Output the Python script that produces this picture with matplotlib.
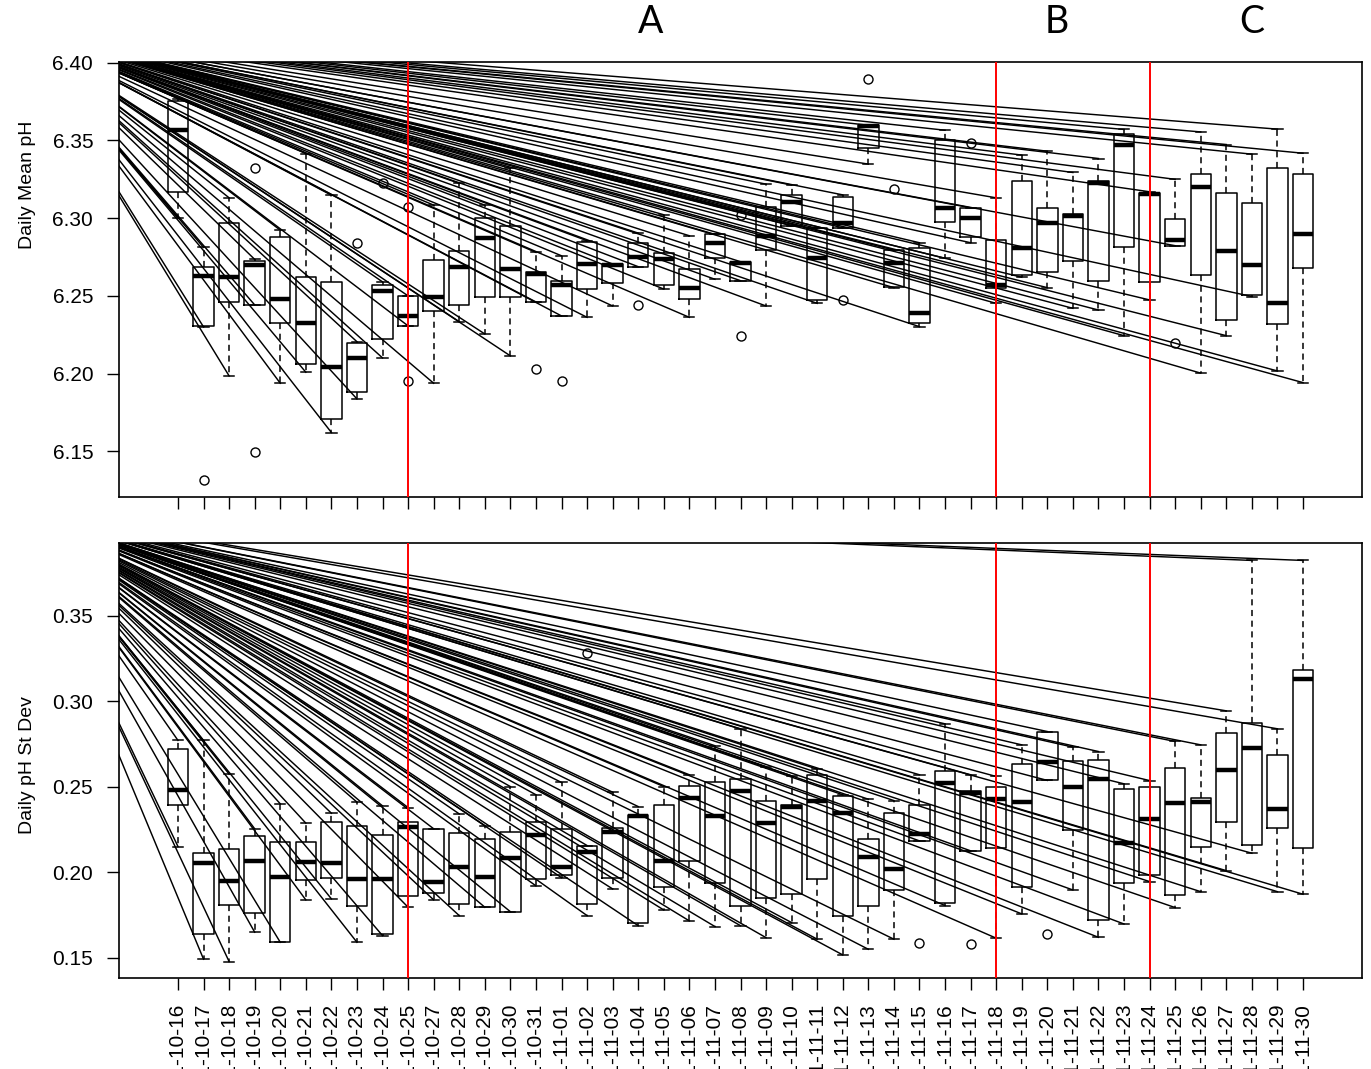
import matplotlib
matplotlib.use("Agg")
import matplotlib.pyplot as plt
import numpy as np

plt.rcParams['font.family'] = ['Liberation Sans', 'DejaVu Sans']

# ---------------- data ----------------
dates = ["2011-10-16", "2011-10-17", "2011-10-18", "2011-10-19", "2011-10-20",
         "2011-10-21", "2011-10-22", "2011-10-23", "2011-10-24", "2011-10-25",
         "2011-10-27", "2011-10-28", "2011-10-29", "2011-10-30", "2011-10-31",
         "2011-11-01", "2011-11-02", "2011-11-03", "2011-11-04", "2011-11-05",
         "2011-11-06", "2011-11-07", "2011-11-08", "2011-11-09", "2011-11-10",
         "2011-11-11", "2011-11-12", "2011-11-13", "2011-11-14", "2011-11-15",
         "2011-11-16", "2011-11-17", "2011-11-18", "2011-11-19", "2011-11-20",
         "2011-11-21", "2011-11-22", "2011-11-23", "2011-11-24", "2011-11-25",
         "2011-11-26", "2011-11-27", "2011-11-28", "2011-11-29", "2011-11-30"]

period_breaks = ["2011-10-25", "2011-11-18", "2011-11-24"]
period_names = ["A", "B", "C"]

# Daily mean pH boxplot statistics
ph_lo = [6.300, 6.230, 6.1985, 6.2442, 6.1938, 6.2009, 6.1621, 6.1837, 6.2101, 6.2307,
         6.1938, 6.2334, 6.2255, 6.2114, 6.2461, 6.2371, 6.2362, 6.2435, 6.2688, 6.2544,
         6.2362, 6.2607, 6.2598, 6.2435, 6.2951, 6.2452, 6.2938, 6.3348, 6.2553, 6.2302,
         6.2742, 6.2842, 6.2452, 6.262, 6.2553, 6.242, 6.2409, 6.2244, 6.2474, 6.2823,
         6.2003, 6.2244, 6.2496, 6.2017, 6.1942]
ph_q1 = [6.317, 6.2307, 6.2461, 6.2442, 6.2324, 6.2062, 6.1709, 6.1882, 6.2225, 6.2307,
         6.240, 6.2443, 6.2495, 6.2495, 6.2461, 6.2371, 6.2544, 6.2581, 6.2688, 6.257,
         6.248, 6.2742, 6.2598, 6.2795, 6.2951, 6.2474, 6.2938, 6.3449, 6.2559, 6.2328,
         6.2977, 6.2877, 6.2549, 6.2634, 6.2652, 6.2724, 6.2598, 6.2816, 6.2587, 6.2823,
         6.2632, 6.2345, 6.2506, 6.2317, 6.2681]
ph_med = [6.3566, 6.2628, 6.2624, 6.2699, 6.2482, 6.2328, 6.2045, 6.2099, 6.253, 6.2373,
          6.2495, 6.2688, 6.287, 6.2671, 6.2639, 6.257, 6.2705, 6.2699, 6.2752, 6.2735,
          6.2553, 6.2842, 6.2713, 6.2887, 6.3105, 6.2742, 6.297, 6.3592, 6.271, 6.2388,
          6.3067, 6.2999, 6.257, 6.2806, 6.297, 6.3016, 6.3224, 6.3474, 6.3155, 6.2859,
          6.3202, 6.2789, 6.2699, 6.2452, 6.2898]
ph_q3 = [6.3755, 6.2688, 6.2969, 6.2724, 6.2877, 6.2624, 6.2587, 6.2199, 6.257, 6.250,
         6.2733, 6.2787, 6.3003, 6.2951, 6.2654, 6.2596, 6.2848, 6.2705, 6.2842, 6.2778,
         6.2673, 6.2896, 6.272, 6.307, 6.3148, 6.2934, 6.3138, 6.3598, 6.2795, 6.2806,
         6.3502, 6.3067, 6.2859, 6.3238, 6.3067, 6.3024, 6.3238, 6.3539, 6.3163, 6.2994,
         6.3283, 6.3159, 6.3095, 6.3322, 6.3283]
ph_hi = [6.377, 6.2812, 6.3131, 6.2735, 6.2923, 6.3416, 6.3148, 6.2205, 6.259, 6.250,
         6.3084, 6.3224, 6.3084, 6.332, 6.278, 6.2758, 6.2855, 6.2705, 6.2904, 6.3022,
         6.2887, 6.2896, 6.272, 6.3219, 6.3213, 6.2934, 6.315, 6.3598, 6.2795, 6.2842,
         6.3566, 6.3067, 6.3131, 6.3406, 6.3431, 6.3294, 6.3384, 6.3571, 6.317, 6.325,
         6.3555, 6.3474, 6.3412, 6.3573, 6.3418]
ph_out_day = [1, 3, 3, 7, 8, 9, 9, 14, 15, 18, 22, 22, 26, 27, 28, 31, 39]
ph_out_val = [6.1313, 6.332, 6.1495, 6.2842, 6.3228, 6.307, 6.1955, 6.2028, 6.1955,
              6.2442, 6.302, 6.2244, 6.2474, 6.3898, 6.3185, 6.3485, 6.220]

# Daily pH standard deviation boxplot statistics
sd_lo = [0.215, 0.1491, 0.1477, 0.1649, 0.159, 0.1838, 0.1844, 0.159, 0.1629, 0.1795,
         0.1838, 0.1746, 0.1795, 0.1769, 0.192, 0.1968, 0.1746, 0.1902, 0.1687, 0.1779,
         0.1715, 0.1682, 0.1687, 0.1617, 0.1705, 0.1608, 0.1516, 0.1549, 0.1608, 0.2183,
         0.1805, 0.2125, 0.1614, 0.1756, 0.2537, 0.1896, 0.1619, 0.1697, 0.1945, 0.1793,
         0.1886, 0.2009, 0.2111, 0.1886, 0.1871]
sd_q1 = [0.2394, 0.1639, 0.181, 0.1764, 0.159, 0.1955, 0.1968, 0.1804, 0.1639, 0.1861,
         0.1877, 0.1813, 0.1795, 0.1769, 0.1959, 0.1984, 0.1813, 0.1968, 0.1701, 0.1912,
         0.2066, 0.1939, 0.1803, 0.1848, 0.1871, 0.1959, 0.1744, 0.1803, 0.1896, 0.2183,
         0.1818, 0.2125, 0.2141, 0.1916, 0.2537, 0.2248, 0.1721, 0.1936, 0.1984, 0.1867,
         0.215, 0.2296, 0.216, 0.2258, 0.2141]
sd_med = [0.2478, 0.2053, 0.1951, 0.2066, 0.1974, 0.2059, 0.2053, 0.1961, 0.1961, 0.2267,
          0.1945, 0.2033, 0.1974, 0.2082, 0.2217, 0.2033, 0.2121, 0.2234, 0.2326, 0.2068,
          0.2437, 0.233, 0.2476, 0.2287, 0.2384, 0.2419, 0.2345, 0.2091, 0.2017, 0.2224,
          0.2521, 0.2463, 0.2427, 0.241, 0.2642, 0.2501, 0.2545, 0.2173, 0.2312, 0.2404,
          0.2413, 0.2595, 0.2724, 0.2371, 0.313]
sd_q3 = [0.2722, 0.2115, 0.2138, 0.2213, 0.2174, 0.2179, 0.2296, 0.2273, 0.2217, 0.2293,
         0.2254, 0.2228, 0.2195, 0.2238, 0.2293, 0.2254, 0.2156, 0.2261, 0.2336, 0.2394,
         0.2507, 0.2527, 0.2545, 0.2419, 0.2394, 0.2566, 0.2443, 0.2195, 0.2345, 0.2394,
         0.2593, 0.2476, 0.2501, 0.2632, 0.2823, 0.2652, 0.2658, 0.2486, 0.2501, 0.2609,
         0.2437, 0.2814, 0.2872, 0.2683, 0.3184]
sd_hi = [0.2771, 0.2771, 0.2574, 0.2254, 0.240, 0.2287, 0.2345, 0.241, 0.2388, 0.2378,
         0.2254, 0.2341, 0.2273, 0.2501, 0.2453, 0.2525, 0.2156, 0.2468, 0.2384, 0.2501,
         0.257, 0.274, 0.2839, 0.2618, 0.2564, 0.2603, 0.2453, 0.2427, 0.2419, 0.257,
         0.2868, 0.257, 0.256, 0.2745, 0.2823, 0.2732, 0.2706, 0.2517, 0.2536, 0.2765,
         0.2745, 0.2944, 0.3824, 0.2839, 0.3824]
sd_out_day = [16, 29, 31, 34]
sd_out_val = [0.3282, 0.1588, 0.1578, 0.1637]

# ---------------- figure ----------------
W, H = 1371, 1069
fig = plt.figure(figsize=(W / 100, H / 100), dpi=100)
ax1 = fig.add_axes([119 / W, 1 - 497 / H, 1243 / W, 435 / H])
ax2 = fig.add_axes([119 / W, 1 - 978 / H, 1243 / W, 435 / H])

# convergence point of the stray segments, in axes fractions
PFX, PFY = -0.082, 1.076


def panel(ax, lo, q1, med, q3, hi, out_day, out_val, ylim, yticks, show_x):
    n = len(med)
    pos = np.arange(n)
    stats = []
    for i in range(n):
        fl = [v for d, v in zip(out_day, out_val) if d == i]
        stats.append(dict(whislo=lo[i], q1=q1[i], med=med[i], q3=q3[i],
                          whishi=hi[i], fliers=fl))
    ax.bxp(stats, positions=pos, widths=0.8, capwidths=0.4, showfliers=True,
           boxprops=dict(color='black', linewidth=1.1),
           whiskerprops=dict(color='black', linewidth=1.1, linestyle=(0, (4, 3))),
           capprops=dict(color='black', linewidth=1.1),
           medianprops=dict(color='black', linewidth=3.2, solid_capstyle='butt'),
           flierprops=dict(marker='o', markerfacecolor='none', markeredgecolor='black',
                           markersize=6.5, markeredgewidth=1.0))
    xlim = (-2.307, n - 1 + 2.307)
    ax.set_xlim(xlim)
    ax.set_ylim(ylim)
    px = xlim[0] + PFX * (xlim[1] - xlim[0])
    py = ylim[0] + PFY * (ylim[1] - ylim[0])
    for i in range(n):
        for v in (hi[i], lo[i]):
            ax.plot([px, pos[i]], [py, v], color='black', lw=1.05, zorder=3)
    for d in period_breaks:
        ax.axvline(dates.index(d), color='red', lw=1.4, zorder=4)
    ax.set_yticks(yticks)
    ax.set_yticklabels([f"{t:.2f}" for t in yticks])
    ax.set_xticks(pos)
    if show_x:
        ax.set_xticklabels(dates, rotation=90, va='top', ha='center')
    else:
        ax.set_xticklabels([])
    ax.tick_params(axis='both', direction='out', length=8.6, width=1.0,
                   labelsize=15, color='black')
    ax.tick_params(axis='y', pad=10)
    ax.tick_params(axis='x', pad=10)
    for s in ax.spines.values():
        s.set_linewidth(1.2)
        s.set_color('black')


panel(ax1, ph_lo, ph_q1, ph_med, ph_q3, ph_hi, ph_out_day, ph_out_val,
      (6.1206, 6.4005), [6.15, 6.20, 6.25, 6.30, 6.35, 6.40], False)
panel(ax2, sd_lo, sd_q1, sd_med, sd_q3, sd_hi, sd_out_day, sd_out_val,
      (0.1381, 0.3926), [0.15, 0.20, 0.25, 0.30, 0.35], True)

fig.text(27 / W, 1 - 185 / H, "Daily Mean pH", rotation=90, ha='center', va='center',
         fontsize=14)
fig.text(27 / W, 1 - 765 / H, "Daily pH St Dev", rotation=90, ha='center', va='center',
         fontsize=14)

for name, xpx in zip(period_names, [651, 1057, 1252]):
    fig.text(xpx / W, 1 - 22 / H, name, ha='center', va='center', fontsize=27,
             family=['Lato', 'DejaVu Sans'])

fig.savefig("out.png", dpi=100)
